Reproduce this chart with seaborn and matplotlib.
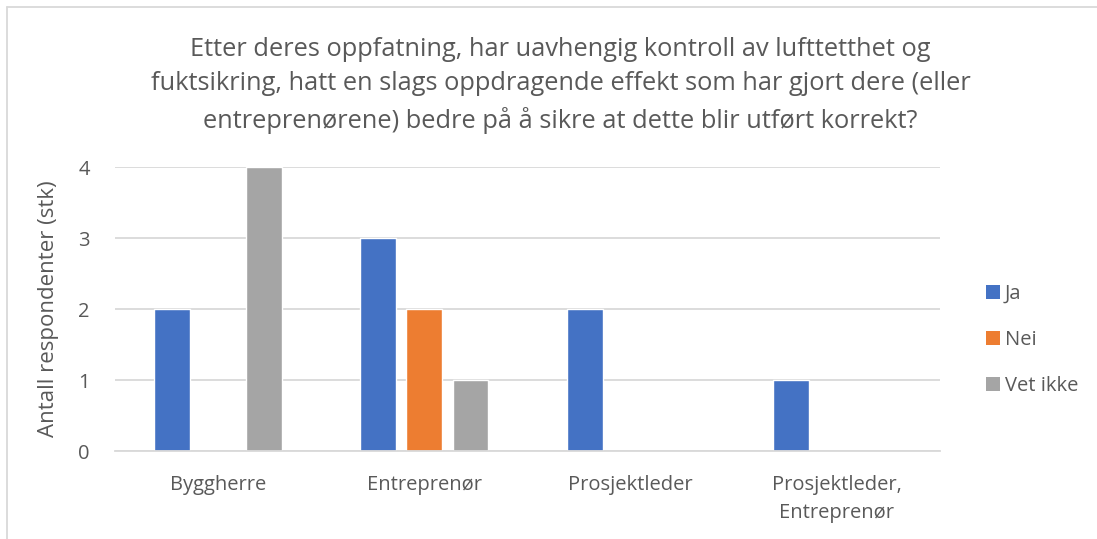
import matplotlib
matplotlib.use("Agg")
import matplotlib.pyplot as plt
from matplotlib.lines import Line2D
from matplotlib.patches import Patch
import seaborn as sns
import pandas as pd

# Survey answers per respondent role
categories = ["Byggherre", "Entreprenør", "Prosjektleder", "Prosjektleder,\nEntreprenør"]
answers = ["Ja", "Nei", "Vet ikke"]
ja = [2, 3, 2, 1]
nei = [0, 2, 0, 0]
vet_ikke = [4, 1, 0, 0]
yticks = [0, 1, 2, 3, 4]

colors = ["#4472C4", "#ED7D31", "#A5A5A5"]
text_color = "#595959"
grid_color = "#D9D9D9"

df = pd.DataFrame({
    "Rolle": categories * 3,
    "Svar": [a for a in answers for _ in categories],
    "Antall": ja + nei + vet_ikke,
})

sns.set_theme(style="white")
plt.rcParams["font.family"] = ["Open Sans", "DejaVu Sans"]

fig = plt.figure(figsize=(10.97, 5.39), dpi=100)
ax = fig.add_axes([0.1048, 0.163, 0.7522, 0.527])

sns.barplot(data=df, x="Rolle", y="Antall", hue="Svar", order=categories,
            hue_order=answers, palette=colors, width=0.67, gap=0.22,
            saturation=1, ax=ax, legend=False)

ax.set_ylim(0, 4)
ax.set_xlim(-0.5, len(categories) - 0.5)
ax.set_yticks(yticks)
ax.set_xticks(range(len(categories)))
ax.set_xticklabels(categories, linespacing=1.55)
ax.yaxis.grid(True, color=grid_color, linewidth=1.3)
ax.set_axisbelow(True)
for s in ["top", "right", "left"]:
    ax.spines[s].set_visible(False)
ax.spines["bottom"].set_color(grid_color)
ax.spines["bottom"].set_linewidth(1.3)
ax.tick_params(axis="both", length=0, colors=text_color, labelsize=14.5)
ax.tick_params(axis="y", pad=18)
ax.tick_params(axis="x", pad=17)
ax.set_xlabel("")
ax.set_ylabel("Antall respondenter (stk)", color=text_color, fontsize=16,
              labelpad=14)

fig.suptitle("Etter deres oppfatning, har uavhengig kontroll av lufttetthet og\n"
             "fuktsikring, hatt en slags oppdragende effekt som har gjort dere (eller\n"
             "entreprenørene) bedre på å sikre at dette blir utført korrekt?",
             x=0.511, y=1 - 85 / 539, va="center", color=text_color,
             fontsize=18.3, linespacing=1.5)

handles = [Patch(facecolor=c, edgecolor="none") for c in colors]
fig.legend(handles, answers, loc="center left", bbox_to_anchor=(0.882, 0.369),
           frameon=False, fontsize=14.5, labelcolor=text_color,
           handlelength=0.7, handleheight=0.7, handletextpad=0.25,
           labelspacing=1.3)

# Chart-area frame along the top and left edge
fig.add_artist(Line2D([7 / 1097, 1], [1 - 7 / 539, 1 - 7 / 539],
                      transform=fig.transFigure, color=grid_color, linewidth=1.3))
fig.add_artist(Line2D([7 / 1097, 7 / 1097], [0, 1 - 7 / 539],
                      transform=fig.transFigure, color=grid_color, linewidth=1.3))

fig.savefig("out.png", dpi=100, facecolor="white")
